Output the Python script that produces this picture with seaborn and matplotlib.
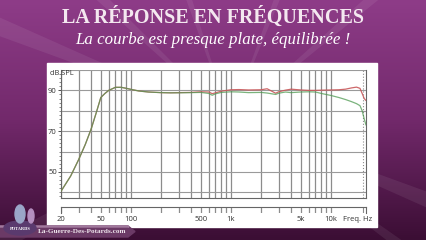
import numpy as np
import pandas as pd
import matplotlib
matplotlib.use("Agg")
import matplotlib.pyplot as plt
import seaborn as sns
from matplotlib.patches import Rectangle, Polygon, Ellipse
from matplotlib.colors import LinearSegmentedColormap
from matplotlib.ticker import NullLocator

# ---------------- data ----------------
freq_hz = [20, 25, 30, 35, 40, 45, 50, 55, 60, 70, 80, 90, 100, 120, 150, 200,
           250, 300, 400, 500, 600, 650, 700, 800, 1000, 1200, 1500, 2000, 2300,
           2800, 3000, 3500, 4000, 5000, 6000, 7000, 8000, 10000, 12000, 14000,
           16000, 18000, 19500, 20500, 21500, 22400]
spl_green = [40.5, 48, 56, 63.5, 71, 79, 86.5, 88.5, 90, 91.5, 91.5, 91, 90.5,
             89.7, 89.2, 88.9, 88.8, 88.8, 88.9, 89.0, 88.5, 87.6, 88.3, 89.0,
             89.3, 89.2, 88.9, 89.0, 88.7, 88.0, 88.6, 89.2, 88.9, 89.2, 89.3,
             89.2, 88.5, 87.5, 86.5, 85.5, 84.5, 83.5, 82.5, 80.0, 76.0, 73.0]
spl_red = [40.5, 48, 56, 63.5, 71, 79, 86.5, 88.5, 90, 91.5, 91.5, 91, 90.5,
           89.7, 89.2, 88.9, 88.8, 88.9, 89.0, 89.3, 89.2, 88.4, 88.8, 89.6,
           90.3, 90.4, 90.2, 90.3, 90.8, 88.6, 89.3, 90.1, 90.6, 90.2, 90.0,
           90.0, 90.1, 90.2, 90.3, 90.6, 91.2, 91.6, 91.0, 88.5, 86.0, 85.0]
y_tick_values = [50, 70, 90]
y_tick_labels = ["50", "70", "90"]
x_tick_values = [20, 50, 100, 500, 1000, 5000, 10000]
x_tick_labels = ["20", "50", "100", "500", "1k", "5k", "10k"]
title = "LA RÉPONSE EN FRÉQUENCES"
subtitle = "La courbe est presque plate, équilibrée !"
y_unit = "dB SPL"
x_unit = "Freq. Hz"
site = "La-Guerre-Des-Potards.com"

# ---------------- figure ----------------
W, H = 426, 240
sns.set_theme(style="white")
plt.rcParams['font.family'] = ['Open Sans', 'DejaVu Sans']


def fx(px):
    return px / W


def fy(py):
    return 1 - py / H


fig = plt.figure(figsize=(W / 100, H / 100), dpi=100)

# background
bg = fig.add_axes([0, 0, 1, 1])
bg.set_xlim(0, W)
bg.set_ylim(H, 0)
bg.axis('off')
grad = np.linspace(0, 1, 256).reshape(-1, 1)
cmap = LinearSegmentedColormap.from_list('p', ['#8e3c88', '#72296b', '#3b0e34'])
bg.imshow(grad, extent=[0, W, H, 0], cmap=cmap, aspect='auto', zorder=0)
cx, cy = 230, 120
for a0, da in [(200, 4), (222, 3), (250, 2.5), (290, 2.5), (318, 3), (20, 4), (35, 2.5), (150, 3)]:
    t0, t1 = np.radians(a0), np.radians(a0 + da)
    r = 500
    bg.add_patch(Polygon([(cx, cy), (cx + r * np.cos(t0), cy + r * np.sin(t0)),
                          (cx + r * np.cos(t1), cy + r * np.sin(t1))],
                         closed=True, color='white', alpha=0.07, lw=0, zorder=1))
# white panel
bg.add_patch(Rectangle((47, 63), 330, 164, color='white', zorder=2))

# bottom banner & logo
bg.add_patch(Polygon([(0, 226), (128, 226), (135, 231.5), (128, 237), (0, 237)],
                     closed=True, color='#6b3a66', zorder=3))
bg.add_patch(Polygon([(0, 226), (128, 226), (129, 227), (0, 227)],
                     closed=True, color='#a27a9e', zorder=3))
bg.add_patch(Ellipse((20, 228), 32, 14, color='#5a3a6e', zorder=4))
bg.add_patch(Ellipse((20, 214), 10, 18, color='#9aa6c8', zorder=4))
bg.add_patch(Ellipse((31, 216), 6, 14, color='#b58fc0', zorder=4))
bg.text(20, 228.5, "POTARDS", color='white', fontsize=3.2, ha='center', va='center',
        weight='bold', family='Liberation Serif', zorder=5)
bg.text(82, 231.5, site, color='#ece2ea', fontsize=5.2, ha='center', va='center',
        weight='bold', family='Liberation Serif', zorder=5)

# titles
fig.text(0.5, fy(17), title, family='Liberation Serif', weight='bold', fontsize=14.5,
         color='#f4e8f0', ha='center', va='center')
fig.text(0.5, fy(40), subtitle, family='Liberation Serif', style='italic', fontsize=12.2,
         color='white', ha='center', va='center')

# ---------------- main plot ----------------
L, R, T, B = 61, 366, 70, 198
ax = fig.add_axes([fx(L), fy(B), (R - L) / W, (B - T) / H])
ax.set_xscale('log')
ax.set_xlim(20, 22400)
ax.set_ylim(37.2, 100)
ax.set_facecolor('white')

grid_x = [d * m for m in (10, 100, 1000) for d in range(1, 10) if d * m >= 20] + [10000]
ax.vlines(grid_x, 37.2, 100, color='#8c8c8c', lw=0.9, zorder=1)
ax.vlines([20800], 37.2, 100, color='#8c8c8c', lw=0.8, linestyles=':', zorder=1)
ax.hlines([40, 50, 60, 70, 80, 90, 100], 20, 22400, color='#9a9a9a', lw=0.8, zorder=1)

df = pd.DataFrame({'freq': freq_hz, 'red': spl_red, 'green': spl_green})
sns.lineplot(data=df, x='freq', y='red', ax=ax, color='#c8585a', lw=0.9, alpha=0.9, zorder=3)
sns.lineplot(data=df, x='freq', y='green', ax=ax, color='#4f9a52', lw=0.9, alpha=0.75, zorder=4)

ax.set_xlabel('')
ax.set_ylabel('')
ax.xaxis.set_minor_locator(NullLocator())
ax.set_xticks([])
ax.set_yticks(y_tick_values)
ax.set_yticklabels(y_tick_labels)
ax.set_yticks(np.arange(38, 100, 2), minor=True)
ax.tick_params(axis='y', which='major', length=2, width=0.6, pad=1, labelsize=5.5,
               colors='#333333', left=True)
ax.tick_params(axis='y', which='minor', length=1.2, width=0.5, left=True, color='#555555')
for s in ['top']:
    ax.spines[s].set_visible(False)
for s in ['left', 'right', 'bottom']:
    ax.spines[s].set_visible(True)
    ax.spines[s].set_color('#666666')
    ax.spines[s].set_linewidth(0.8)

fig.text(fx(61.5), fy(73.5), y_unit, fontsize=5.3, color='#333333', ha='center', va='center')

# ---------------- frequency strip ----------------
ax2 = fig.add_axes([fx(L), fy(213), (R - L) / W, 6 / H])
ax2.set_xscale('log')
ax2.set_xlim(20, 22400)
ax2.set_ylim(0, 1)
ax2.set_facecolor('white')
ax2.vlines(grid_x, 0, 1, color='#8c8c8c', lw=0.9)
ax2.vlines([20800], 0, 1, color='#8c8c8c', lw=0.8)
ax2.xaxis.set_minor_locator(NullLocator())
ax2.set_xticks(x_tick_values)
ax2.set_xticklabels(x_tick_labels)
ax2.set_yticks([])
ax2.tick_params(axis='x', length=0, pad=2, labelsize=5.5, colors='#333333')
ax2.spines['bottom'].set_visible(False)
for s in ['top', 'left', 'right']:
    ax2.spines[s].set_visible(True)
    ax2.spines[s].set_color('#666666')
    ax2.spines[s].set_linewidth(0.8)

fig.text(fx(358), fy(219.5), x_unit, fontsize=5.5, color='#333333', ha='center', va='center')

fig.savefig('out.png', dpi=100)
